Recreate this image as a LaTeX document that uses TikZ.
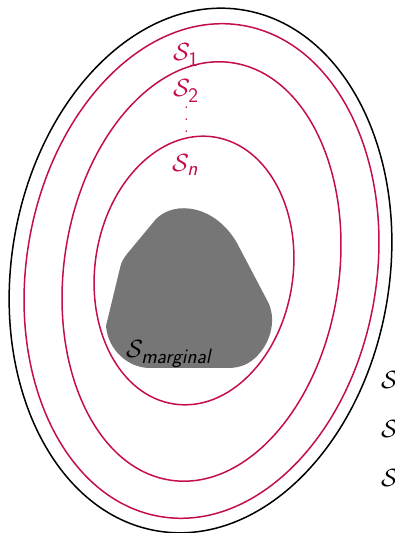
\documentclass[tikz,border=0pt]{standalone}
\usepackage{amsmath}
\definecolor{setred}{RGB}{196,14,74}
\definecolor{blobgray}{RGB}{118,118,118}
\begin{document}
\begin{tikzpicture}[x=1pt,y=1pt,
  outerline/.style={draw=black,line width=1.5pt},
  setline/.style={draw=setred,line width=1.5pt},
  setlabel/.style={text=setred,inner sep=0pt,anchor=base west,font=\Huge},
  dotlabel/.style={text=setred,inner sep=0pt,anchor=base,font=\huge},
  blacklabel/.style={text=black,inner sep=0pt,anchor=base west,font=\Huge}]
\useasboundingbox (0,0) rectangle (394,533);
% nested sets
\draw[outerline,rotate around={-9.3:(200.5,262.5)}] (200.5,262.5) ellipse [x radius=189pt, y radius=264pt];
\draw[setline,rotate around={-9.5:(201.5,262)}] (201.5,262) ellipse [x radius=175pt, y radius=249pt];
\draw[setline,rotate around={-8.4:(201.5,261.5)}] (201.5,261.5) ellipse [x radius=137.5pt, y radius=211pt];
\draw[setline,rotate around={-8.5:(194,262.5)}] (194,262.5) ellipse [x radius=99pt, y radius=135pt];
% marginal set
\fill[blobgray] (106,207) -- (120,265)
  .. controls (121,270) and (123,274) .. (127,279) -- (156,314)
  .. controls (175,333) and (215,328) .. (237,290) -- (268,231)
  .. controls (276,215) and (272,193) .. (258,178)
  .. controls (250,169) and (240,165) .. (228,165) -- (150,165)
  .. controls (128,165) and (108,183) .. (106,207) -- cycle;
% labels
\node[setlabel] (s1) at (173,472) {$\mathcal{S}_{\textsf{1}}$};
\node[setlabel] (s2) at (173,436) {$\mathcal{S}_{\textsf{2}}$};
\node[dotlabel] (d1) at (186.5,424) {.};
\node[dotlabel] (d2) at (186.5,412) {.};
\node[dotlabel] (d3) at (186.5,400) {.};
\node[setlabel] (sn) at (172,361) {$\mathcal{S}_{\textsf{\itshape n}}$};
\node[blacklabel] (smarg) at (126,175) {$\mathcal{S}_{\textsf{\itshape marginal}}$};
\node[blacklabel] (r1) at (381,144) {$\mathcal{S}$};
\node[blacklabel] (r2) at (381,95) {$\mathcal{S}$};
\node[blacklabel] (r3) at (381,46) {$\mathcal{S}$};
\end{tikzpicture}
\end{document}
